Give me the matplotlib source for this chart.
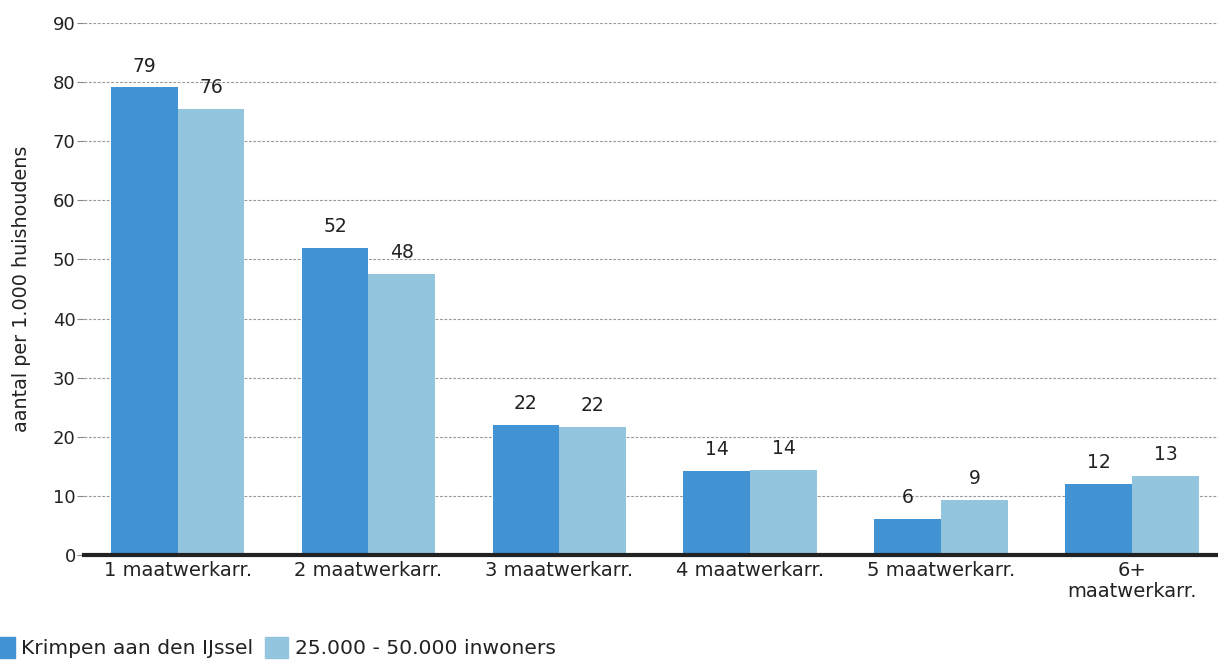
import numpy as np
import matplotlib.pyplot as plt
from matplotlib.patches import Patch

plt.rcParams['font.family'] = ['DejaVu Sans']

categories = ["1 maatwerkarr.", "2 maatwerkarr.", "3 maatwerkarr.",
              "4 maatwerkarr.", "5 maatwerkarr.", "6+\nmaatwerkarr."]
krimpen = [79.1, 52.0, 22.0, 14.2, 6.1, 12.0]
referentie = [75.5, 47.6, 21.7, 14.4, 9.3, 13.4]
series_names = ["Krimpen aan den IJssel", "25.000 - 50.000 inwoners"]

dark = "#4193d3"
light = "#93c5de"
txt = "#222222"

fig = plt.figure(figsize=(12.18, 6.62), dpi=100)
ax = fig.add_axes([0.069, 0.1616, 0.931, 0.8036])

x = np.arange(len(categories))
w = 0.35
ax.bar(x - w / 2, krimpen, w, color=dark, zorder=3)
ax.bar(x + w / 2, referentie, w, color=light, zorder=3)

for xi, v in zip(x, krimpen):
    ax.text(xi - w / 2, v + 2.0, f"{v:.0f}", ha="center", va="bottom",
            fontsize=13.5, color=txt)
for xi, v in zip(x, referentie):
    ax.text(xi + w / 2, v + 2.0, f"{v:.0f}", ha="center", va="bottom",
            fontsize=13.5, color=txt)

ax.set_ylim(0, 90)
ax.set_xlim(-0.49, 5.45)
ax.set_yticks(range(0, 91, 10))
ax.set_xticks(x)
ax.set_xticklabels(categories, fontsize=14, color=txt, linespacing=1.15)
ax.tick_params(axis="y", labelsize=13, length=5, color="#888888",
               labelcolor=txt, pad=1)
ax.tick_params(axis="x", length=0, pad=4)
ax.yaxis.grid(True, linestyle=(0, (2.5, 1.5)), color="#999999", linewidth=0.8, zorder=0)
ax.set_ylabel("aantal per 1.000 huishoudens", fontsize=13.8, color=txt,
              labelpad=16)

for s in ["top", "right", "left"]:
    ax.spines[s].set_visible(False)
ax.spines["bottom"].set_linewidth(3)
ax.spines["bottom"].set_color(txt)
ax.spines["bottom"].set_zorder(4)

handles = [Patch(color=dark), Patch(color=light)]
fig.legend(handles, series_names, loc="lower left", bbox_to_anchor=(-0.022, -0.022),
           ncol=2, frameon=False, fontsize=14.6, handlelength=1.15, handleheight=1.2,
           handletextpad=0.3, columnspacing=0.6, labelcolor=txt)

fig.savefig("out.png", dpi=100)
